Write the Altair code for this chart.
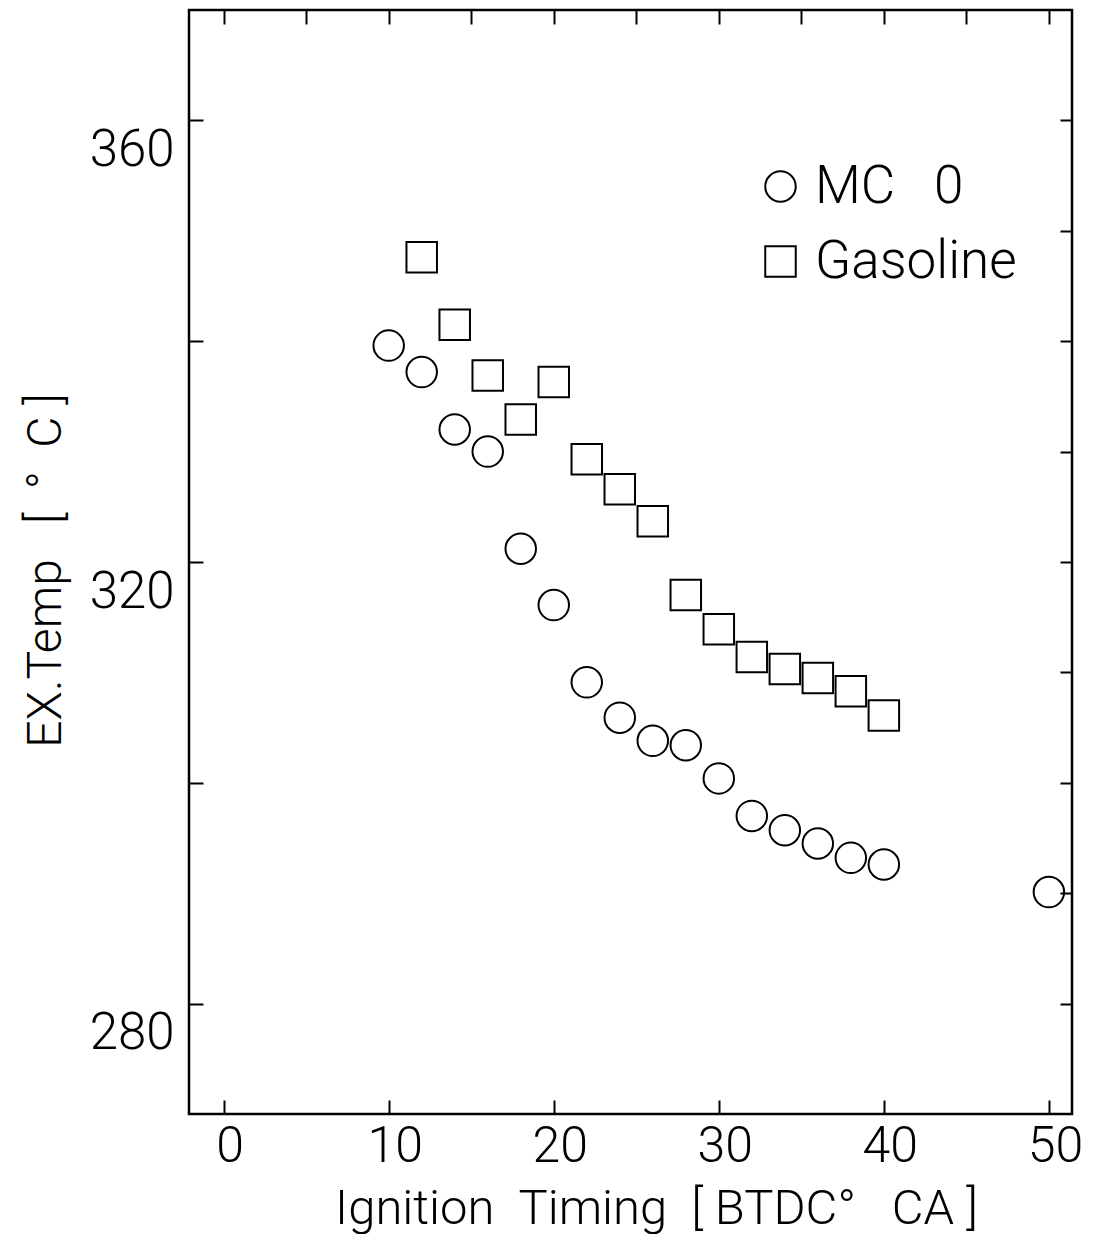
import altair as alt
import pandas as pd

# MC 0 (circles)
mc_x = [10, 12, 14, 16, 18, 20, 22, 24, 26, 28, 30, 32, 34, 36, 38, 40, 50]
mc_y = [339.6, 337.2, 332.0, 330.0, 321.2, 316.1, 309.1, 305.9, 303.8, 303.4,
        300.4, 297.0, 295.7, 294.5, 293.2, 292.6, 290.1]
# Gasoline (squares)
gas_x = [12, 14, 16, 18, 20, 22, 24, 26, 28, 30, 32, 34, 36, 38, 40]
gas_y = [347.6, 341.5, 336.9, 332.9, 336.3, 329.3, 326.6, 323.7, 317.0, 313.9,
         311.4, 310.3, 309.5, 308.3, 306.1]

series_names = ["MC\u00a0\u00a0\u00a00", "Gasoline"]
x_label_values = [0, 10, 20, 30, 40, 50]
x_top_ticks = [0, 5, 10, 15, 20, 25, 30, 35, 40, 45, 50]
y_label_values = [280, 320, 360]
y_left_ticks = [280, 300, 320, 340, 360]
y_right_ticks = [280, 290, 300, 310, 320, 330, 340, 350, 360]

x_title = "Ignition\u00a0\u00a0Timing\u00a0\u00a0[\u00a0BTDC°\u00a0\u00a0\u00a0CA\u00a0]"
y_title = "EX.Temp\u00a0\u00a0\u00a0[\u00a0\u00a0°\u00a0\u00a0C\u00a0]"

df = pd.DataFrame({
    "x": mc_x + gas_x,
    "y": mc_y + gas_y,
    "series": [series_names[0]] * len(mc_x) + [series_names[1]] * len(gas_x),
})

W, H = 883, 1104
FONT = "Roboto"

xs = alt.Scale(domain=[-2.1, 51.4], nice=False, zero=False)
ys = alt.Scale(domain=[270, 370], nice=False, zero=False)

main = alt.Chart(df).mark_point(filled=False, stroke="black", strokeWidth=2, size=930, opacity=1).encode(
    x=alt.X("x:Q", scale=xs, axis=alt.Axis(
        orient="bottom", values=x_label_values, ticks=False, tickSize=0, domain=False, grid=False,
        labelFont=FONT, labelFontWeight=300, labelFontSize=50, labelColor="black",
        labelBaseline="alphabetic", labelPadding=47, labelFlush=False, labelOffset=6,
        title=x_title, titleFont=FONT, titleFontWeight=300, titleFontSize=49, titleColor="black",
        titleX=467, titleY=109, titleBaseline="alphabetic", titleAlign="center", titleAnchor="middle")),
    y=alt.Y("y:Q", scale=ys, axis=alt.Axis(
        orient="left", values=y_label_values, ticks=False, tickSize=0, domain=False, grid=False,
        labelFont=FONT, labelFontWeight=300, labelFontSize=51, labelColor="black",
        labelBaseline="alphabetic", labelOffset=45, labelPadding=15, labelFlush=False,
        title=y_title, titleFont=FONT, titleFontWeight=300, titleFontSize=48, titleColor="black",
        titleX=-129, titleY=560, titleBaseline="alphabetic", titleAlign="center", titleAngle=270)),
    shape=alt.Shape("series:N", scale=alt.Scale(domain=series_names, range=["circle", "square"]),
                    legend=alt.Legend(
                        orient="none", legendX=565, legendY=150, title=None, padding=0,
                        symbolSize=930, symbolStrokeWidth=2, symbolStrokeColor="black",
                        symbolFillColor="transparent", labelFont=FONT, labelFontWeight=300,
                        labelFontSize=53, labelColor="black", labelOffset=8, rowPadding=21,
                        labelLimit=400)),
)

ticks_a = alt.Chart(df).mark_point(opacity=0).encode(
    x=alt.X("x:Q", scale=xs, axis=alt.Axis(
        orient="top", offset=-H, values=x_label_values, ticks=True, tickSize=14, tickWidth=2,
        tickColor="black", labels=False, domain=False, grid=False, title=None)),
    y=alt.Y("y:Q", scale=ys, axis=alt.Axis(
        orient="right", offset=-W, values=y_left_ticks, ticks=True, tickSize=14, tickWidth=2,
        tickColor="black", labels=False, domain=False, grid=False, title=None)),
)

ticks_b = alt.Chart(df).mark_point(opacity=0).encode(
    x=alt.X("x:Q", scale=xs, axis=alt.Axis(
        orient="bottom", offset=-H, values=x_top_ticks, ticks=True, tickSize=14, tickWidth=2,
        tickColor="black", labels=False, domain=False, grid=False, title=None)),
    y=alt.Y("y:Q", scale=ys, axis=alt.Axis(
        orient="left", offset=-W, values=y_right_ticks, ticks=True, tickSize=12, tickWidth=2,
        tickColor="black", labels=False, domain=False, grid=False, title=None)),
)

chart = alt.layer(main, ticks_a, ticks_b).resolve_axis(
    x="independent", y="independent"
).properties(
    width=W, height=H,
    autosize=alt.AutoSizeParams(type="none"),
    padding={"left": 181, "top": 2, "right": 16, "bottom": 120},
    background="white",
).configure_view(
    stroke="black", strokeWidth=2.5
)

chart.save("out.html", embed_options={"renderer": "svg", "actions": False})
